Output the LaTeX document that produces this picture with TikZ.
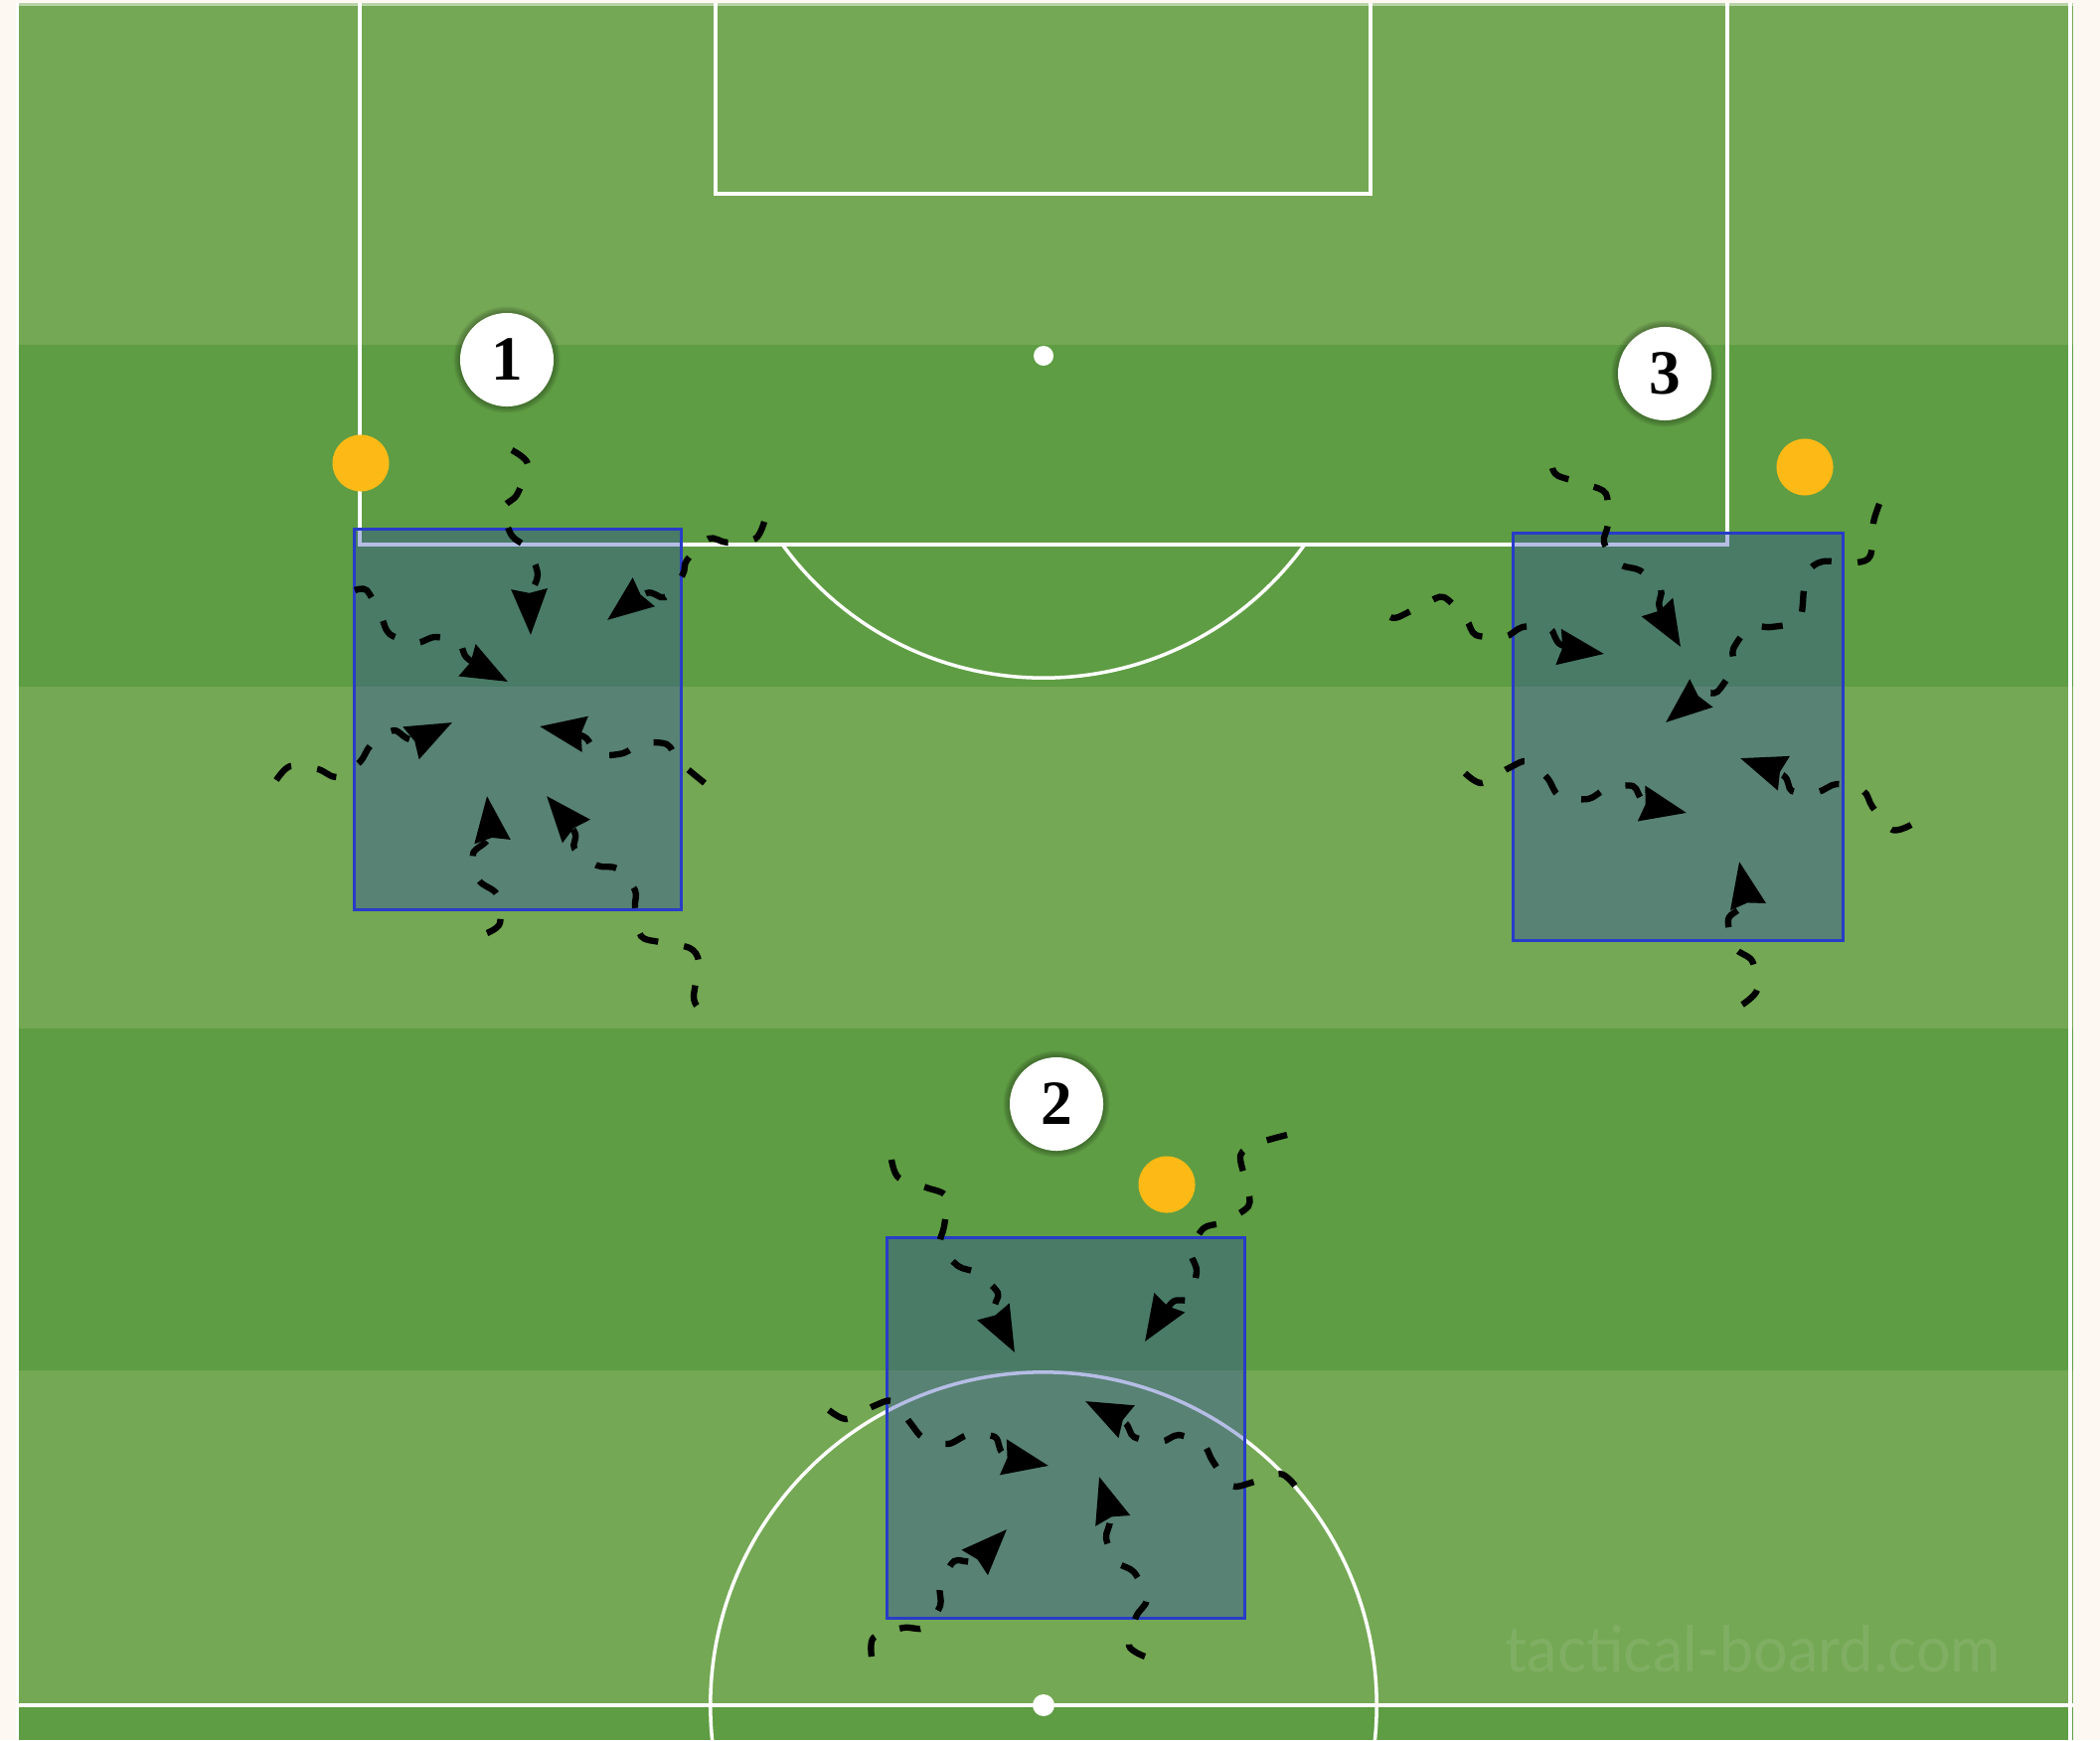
\documentclass[tikz,border=0pt]{standalone}
\usepackage{fontspec}
\usepackage{graphicx}
\setmainfont{Liberation Serif}
\setsansfont{Lato}
\usetikzlibrary{arrows.meta}
\definecolor{cream}{RGB}{253,248,242}
\definecolor{lightg}{RGB}{116,168,84}
\definecolor{darkg}{RGB}{94,157,67}
\definecolor{boxfill}{RGB}{33,55,179}
\definecolor{boxline}{RGB}{40,60,200}
\definecolor{conecol}{RGB}{253,186,22}
\begin{document}
\begin{tikzpicture}[x=0.01cm,y=-0.01cm,
  pline/.style={white, line width=1pt},
  zone/.style={fill=boxfill, fill opacity=0.33, draw=boxline, draw opacity=1, line width=0.85pt},
  run/.style={line width=1.8pt, dash pattern=on 6pt off 7.5pt, -{Stealth[length=13pt,width=10pt,inset=1pt]}},
  conemark/.style={circle, fill=conecol, minimum size=0.57cm, inner sep=0pt},
  num/.style={circle, fill=white, minimum size=0.94cm, inner sep=0pt, font=\bfseries\fontsize{18}{18}\selectfont},
  halo/.style={fill=black, opacity=0.07},
]
\useasboundingbox (0,0) rectangle (2113,1751);
\fill[cream] (0,0) rectangle (2113,1751);
\begin{scope}
\clip (16,3) rectangle (2086,1751);
% stripes
\fill[lightg] (16,3) rectangle (2086,347);
\fill[darkg] (16,347) rectangle (2086,691);
\fill[lightg] (16,691) rectangle (2086,1035);
\fill[darkg] (16,1035) rectangle (2086,1379);
\fill[lightg] (16,1379) rectangle (2086,1718);
\fill[darkg] (16,1718) rectangle (2086,1751);
% pitch lines
\draw[pline] (17,3) -- (17,1751);
\draw[pline] (2083,3) -- (2083,1751);
\draw[pline, opacity=0.5] (16,4) -- (2086,4);
\draw[pline] (720,3) -- (720,195) -- (1379,195) -- (1379,3);
\draw[pline] (362,3) -- (362,548) -- (1738,548) -- (1738,3);
\fill[white] (1050,358) circle[radius=0.1cm];
\begin{scope}
\clip (0,548) rectangle (2113,1000);
\draw[pline] (1050,358) circle[radius=3.24cm];
\end{scope}
\draw[pline] (16,1716) -- (2086,1716);
\draw[pline] (1050,1716) circle[radius=3.35cm];
\fill[white] (1050,1716) circle[radius=0.11cm];
% watermark
\node[anchor=base west, inner sep=0pt, text=white, text opacity=0.09] (wm) at (1514,1682)
  {\resizebox{4.98cm}{0.47cm}{\sffamily tactical-board.com}};
% zones
\draw[zone] (356,532) rectangle (685,915);
\draw[zone] (1522,536) rectangle (1854,946);
\draw[zone] (892,1245) rectangle (1252,1628);
\end{scope}

% runs, zone 1
\draw[run] plot[smooth, tension=0.5] coordinates {(515,453) (531,467) (520,498) (506,512) (515,539) (531,552) (541,578) (534,600) (534,639)};
\draw[run] plot[smooth, tension=0.5] coordinates {(769,525) (760,542) (732,546) (713,542) (691,564) (687,578) (669,601) (650,597) (611,624)};
\draw[run] plot[smooth, tension=0.5] coordinates {(357,594) (369,594) (383,619) (392,638) (418,647) (438,641) (462,647) (471,663) (511,686)};
\draw[run] plot[smooth, tension=0.5] coordinates {(278,785) (292,771) (320,774) (339,782) (362,767) (373,750) (396,735) (415,744) (455,727)};
\draw[run] plot[smooth, tension=0.5] coordinates {(709,788) (683,766) (671,749) (645,748) (627,758) (601,759) (587,741) (543,731)};
\draw[run] plot[smooth, tension=0.5] coordinates {(490,939) (503,929) (500,900) (482,886) (476,859) (492,842) (490,801)};
\draw[run] plot[smooth, tension=0.5] coordinates {(701,1012) (698,1002) (703,968) (694,954) (664,948) (645,942) (639,913) (639,896) (621,874) (601,871) (578,854) (578,837) (550,801)};
% runs, zone 3
\draw[run] plot[smooth, tension=0.5] coordinates {(1562,471) (1568,479) (1598,488) (1616,497) (1618,527) (1614,546) (1630,568) (1650,574) (1671,593) (1670,612) (1691,651)};
\draw[run] plot[smooth, tension=0.5] coordinates {(1399,621) (1407,621) (1435,607) (1453,601) (1475,623) (1485,639) (1514,641) (1532,631) (1559,632) (1571,649) (1614,658)};
\draw[run] plot[smooth, tension=0.5] coordinates {(1891,507) (1885,526) (1882,559) (1868,566) (1834,565) (1819,575) (1815,594) (1810,624) (1782,631) (1761,631) (1744,653) (1744,671) (1728,696) (1712,699) (1676,727)};
\draw[run] plot[smooth, tension=0.5] coordinates {(1474,778) (1491,788) (1518,773) (1537,766) (1557,783) (1569,801) (1598,804) (1616,794) (1643,791) (1655,807) (1697,818)};
\draw[run] plot[smooth, tension=0.5] coordinates {(1923,830) (1904,835) (1884,812) (1875,796) (1848,789) (1829,797) (1803,796) (1794,780) (1751,763)};
\draw[run] plot[smooth, tension=0.5] coordinates {(1753,1011) (1768,996) (1763,967) (1746,954) (1739,925) (1755,908) (1750,867)};
% runs, zone 2
\draw[run] plot[smooth, tension=0.5] coordinates {(897,1167) (904,1185) (932,1195) (952,1204) (950,1234) (946,1253) (964,1274) (983,1281) (1004,1301) (1001,1319) (1021,1361)};
\draw[run] plot[smooth, tension=0.5] coordinates {(1295,1142) (1264,1151) (1248,1163) (1255,1194) (1256,1214) (1230,1230) (1211,1236) (1198,1259) (1204,1279) (1196,1307) (1179,1311) (1152,1350)};
\draw[run] plot[smooth, tension=0.5] coordinates {(834,1419) (852,1428) (879,1415) (898,1410) (916,1432) (929,1447) (954,1453) (974,1444) (1001,1446) (1011,1464) (1055,1475)};
\draw[run] plot[smooth, tension=0.5] coordinates {(1303,1495) (1288,1483) (1259,1492) (1239,1495) (1220,1470) (1211,1454) (1186,1444) (1168,1451) (1141,1446) (1131,1431) (1092,1410)};
\draw[run] plot[smooth, tension=0.5] coordinates {(877,1667) (879,1648) (909,1638) (930,1638) (946,1616) (946,1596) (960,1571) (980,1570) (1013,1539)};
\draw[run] plot[smooth, tension=0.5] coordinates {(1152,1667) (1136,1656) (1143,1627) (1154,1609) (1141,1582) (1124,1572) (1113,1548) (1117,1527) (1106,1486)};

% cones
\node[conemark] (c1) at (363,466) {};
\node[conemark] (c3) at (1816,470) {};
\node[conemark] (c2) at (1174,1192) {};

% number markers
\foreach \p in {(510,362),(1675,376),(1063,1111)} {
  \fill[halo] \p circle[radius=0.535cm];
  \fill[halo] \p circle[radius=0.52cm];
  \fill[halo] \p circle[radius=0.505cm];
  \fill[halo] \p circle[radius=0.49cm];
}
\node[num] (n1) at (510,362) {1};
\node[num] (n3) at (1675,376) {3};
\node[num] (n2) at (1063,1111) {2};
\end{tikzpicture}
\end{document}
